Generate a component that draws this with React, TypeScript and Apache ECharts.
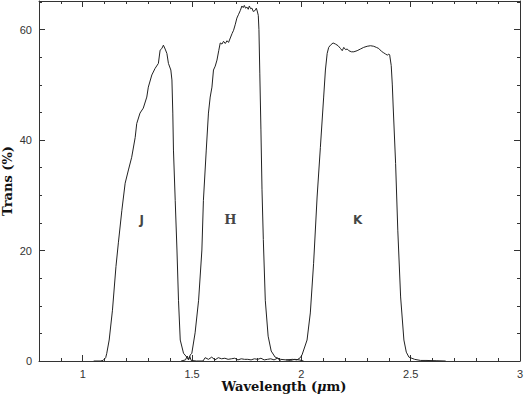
import React, { useEffect, useRef } from "react";
import * as echarts from "echarts";

// ---- Data ----
const jX = [1.05, 1.08, 1.093, 1.105, 1.11, 1.121, 1.136, 1.152, 1.163, 1.179, 1.194, 1.209, 1.224, 1.24, 1.247, 1.262, 1.277, 1.293, 1.3, 1.316, 1.331, 1.346, 1.354, 1.362, 1.369, 1.377, 1.385, 1.392, 1.403, 1.408, 1.412, 1.415, 1.423, 1.431, 1.438, 1.446, 1.461, 1.476, 1.484, 1.49, 1.496, 1.52, 1.55, 1.56, 1.575, 1.59, 1.605, 1.62, 1.635, 1.65, 1.665, 1.68, 1.695, 1.71, 1.725, 1.74, 1.755, 1.77, 1.785, 1.8, 1.815, 1.83, 1.845, 1.86, 1.875, 1.89, 1.905];
const jY = [0, 0, 0.1, 0.6, 1.4, 3.8, 9.2, 17.1, 21.4, 27.3, 32.2, 34.6, 36.9, 40.5, 43.0, 44.9, 45.8, 47.8, 49.6, 51.8, 53.0, 53.9, 56.3, 56.6, 57.2, 56.5, 55.7, 53.9, 52.7, 50.9, 44.9, 38.2, 29.1, 20.1, 11.0, 3.8, 1.4, 0.7, 0.2, 0.8, 0.1, 0, 0, 0.6, 0.3, 0.7, 0.2, 0.6, 0.4, 0.5, 0.3, 0.4, 0.5, 0.2, 0.4, 0.3, 0.3, 0.2, 0.4, 0.3, 0.5, 0.2, 0.3, 0.4, 0.2, 0.5, 0.1];

const hX = [1.45, 1.47, 1.478, 1.484, 1.492, 1.499, 1.514, 1.53, 1.545, 1.552, 1.565, 1.575, 1.583, 1.591, 1.598, 1.606, 1.614, 1.622, 1.629, 1.637, 1.644, 1.652, 1.66, 1.667, 1.675, 1.683, 1.69, 1.698, 1.705, 1.713, 1.721, 1.728, 1.734, 1.739, 1.745, 1.751, 1.757, 1.762, 1.768, 1.774, 1.78, 1.789, 1.794, 1.798, 1.803, 1.806, 1.81, 1.815, 1.82, 1.826, 1.835, 1.848, 1.862, 1.88, 1.905, 1.93, 1.95, 1.97, 1.99, 2.01];
const hY = [0, 0.2, 0.9, 0.3, 1.1, 1.4, 5.1, 11.0, 20.1, 29.1, 38.2, 44.9, 47.8, 49.6, 52.7, 53.4, 54.5, 56.2, 57.6, 57.4, 57.9, 57.5, 58.0, 57.7, 58.5, 59.3, 59.9, 61.0, 62.1, 62.8, 63.5, 64.3, 64.0, 64.4, 63.9, 64.1, 63.7, 64.3, 63.8, 63.9, 63.3, 63.5, 63.9, 63.4, 62.6, 60.0, 52.0, 42.0, 31.0, 22.0, 11.0, 4.5, 1.8, 0.7, 0.3, 0.2, 0.1, 0.3, 0.2, 0];

const kX = [1.93, 1.96, 1.98, 1.995, 2.003, 2.026, 2.041, 2.056, 2.072, 2.087, 2.102, 2.11, 2.118, 2.125, 2.133, 2.145, 2.156, 2.168, 2.179, 2.187, 2.194, 2.202, 2.21, 2.217, 2.229, 2.24, 2.255, 2.27, 2.285, 2.301, 2.316, 2.331, 2.343, 2.354, 2.366, 2.377, 2.385, 2.393, 2.4, 2.404, 2.411, 2.416, 2.42, 2.431, 2.441, 2.454, 2.469, 2.48, 2.492, 2.518, 2.545, 2.57, 2.62, 2.66];
const kY = [0.2, 0.3, 0.2, 0.6, 1.1, 3.8, 8.7, 17.7, 29.7, 38.7, 47.8, 52.7, 55.7, 56.8, 57.2, 57.6, 57.4, 57.1, 56.6, 56.2, 56.8, 56.4, 56.5, 56.2, 56.0, 56.0, 56.2, 56.5, 56.8, 57.0, 57.1, 57.0, 56.8, 56.6, 56.1, 55.8, 55.6, 55.4, 55.6, 55.4, 53.5, 50.0, 46.0, 35.8, 23.7, 11.6, 3.8, 1.6, 0.7, 0.3, 0.1, 0.1, 0.05, 0];

const bandNames = ["J", "H", "K"];
const bandLabelX = [1.27, 1.675, 2.257];
const bandLabelY = [25.6, 25.6, 25.6];

const xMajor = [1, 1.5, 2, 2.5, 3];
const xMinor = [0.8, 0.9, 1, 1.1, 1.2, 1.3, 1.4, 1.5, 1.6, 1.7, 1.8, 1.9, 2, 2.1, 2.2, 2.3, 2.4, 2.5, 2.6, 2.7, 2.8, 2.9, 3];
const yMajor = [0, 20, 40, 60];
const yMinor = [0, 5, 10, 15, 20, 25, 30, 35, 40, 45, 50, 55, 60, 65];

const X_MIN = 0.8;
const X_MAX = 3.0;
const Y_MIN = 0;
const Y_MAX = 65.2;

const INK = "#222";
const FRAME = "#333";

function pairs(xs: number[], ys: number[]) {
  return xs.map((x, i) => [x, ys[i]]);
}

function makeX(position: "bottom" | "top", values: number[], len: number, line: boolean, labels: boolean, extra: any = {}) {
  return {
    type: "value",
    min: X_MIN,
    max: X_MAX,
    position,
    axisLine: { show: line, onZero: false, lineStyle: { color: FRAME, width: 1 } },
    axisTick: { show: true, inside: true, length: len, customValues: values, lineStyle: { color: FRAME, width: 1 } },
    axisLabel: labels
      ? { show: true, customValues: values, color: "#333", fontSize: 11, fontFamily: "Liberation Sans, Arial, sans-serif", margin: 7 }
      : { show: false, customValues: values },
    splitLine: { show: false },
    ...extra,
  };
}

function makeY(position: "left" | "right", values: number[], len: number, line: boolean, labels: boolean, extra: any = {}) {
  return {
    type: "value",
    min: Y_MIN,
    max: Y_MAX,
    position,
    axisLine: { show: line, onZero: false, lineStyle: { color: FRAME, width: 1 } },
    axisTick: { show: true, inside: true, length: len, customValues: values, lineStyle: { color: FRAME, width: 1 } },
    axisLabel: labels
      ? { show: true, customValues: values, color: "#333", fontSize: 11, fontFamily: "Liberation Sans, Arial, sans-serif", margin: 7 }
      : { show: false, customValues: values },
    splitLine: { show: false },
    ...extra,
  };
}

const nameFont = {
  fontFamily: "DejaVu Serif, serif",
  fontWeight: "bold" as const,
  fontSize: 13,
  color: "#111",
};

export default function App() {
  const ref = useRef<HTMLDivElement>(null);
  useEffect(() => {
    if (!ref.current) return;
    const chart = echarts.init(ref.current, null, { renderer: "svg" });
    const lineStyle = { color: INK, width: 1 };
    chart.setOption({
      animation: false,
      backgroundColor: "#fff",
      grid: { left: 39, right: 5, top: 1, bottom: 35, containLabel: false, outerBoundsMode: "none" },
      xAxis: [
        makeX("bottom", xMajor, 6, true, true, {
          name: "Wavelength ({mu|μ}m)",
          nameLocation: "middle",
          nameGap: 19,
          nameMoveOverlap: false,
          nameTextStyle: {
            ...nameFont,
            padding: [0, 0, 0, 9],
            rich: { mu: { ...nameFont, fontStyle: "italic" } },
          },
        }),
        makeX("bottom", xMinor, 3, false, false),
        makeX("top", xMajor, 6, true, false),
        makeX("top", xMinor, 3, false, false),
      ],
      yAxis: [
        makeY("left", yMajor, 6, true, true, {
          name: "Trans (%)",
          nameLocation: "middle",
          nameGap: 25,
          nameRotate: 90,
          nameMoveOverlap: false,
          nameTextStyle: { ...nameFont },
        }),
        makeY("left", yMinor, 3, false, false),
        makeY("right", yMajor, 6, true, false),
        makeY("right", yMinor, 3, false, false),
      ],
      series: [
        { type: "line", name: "J", data: pairs(jX, jY), showSymbol: false, symbol: "none", lineStyle, silent: true },
        { type: "line", name: "H", data: pairs(hX, hY), showSymbol: false, symbol: "none", lineStyle, silent: true },
        { type: "line", name: "K", data: pairs(kX, kY), showSymbol: false, symbol: "none", lineStyle, silent: true },
        {
          type: "scatter",
          name: "labels",
          silent: true,
          symbolSize: 1,
          itemStyle: { color: "rgba(0,0,0,0)" },
          label: {
            show: true,
            position: "inside",
            formatter: (p: any) => p.name,
            color: "#111",
            fontWeight: "bold",
            fontSize: 12,
            fontFamily: "DejaVu Sans, sans-serif",
          },
          data: bandNames.map((n, i) => ({
            name: n,
            value: [bandLabelX[i], bandLabelY[i]],
            label: n === "H" ? { fontFamily: "DejaVu Serif, serif", fontSize: 13 } : undefined,
          })),
        },
      ],
    });
    return () => chart.dispose();
  }, []);
  return <div ref={ref} style={{ position: "absolute", left: 0, top: 0, width: 525, height: 396 }} />;
}
